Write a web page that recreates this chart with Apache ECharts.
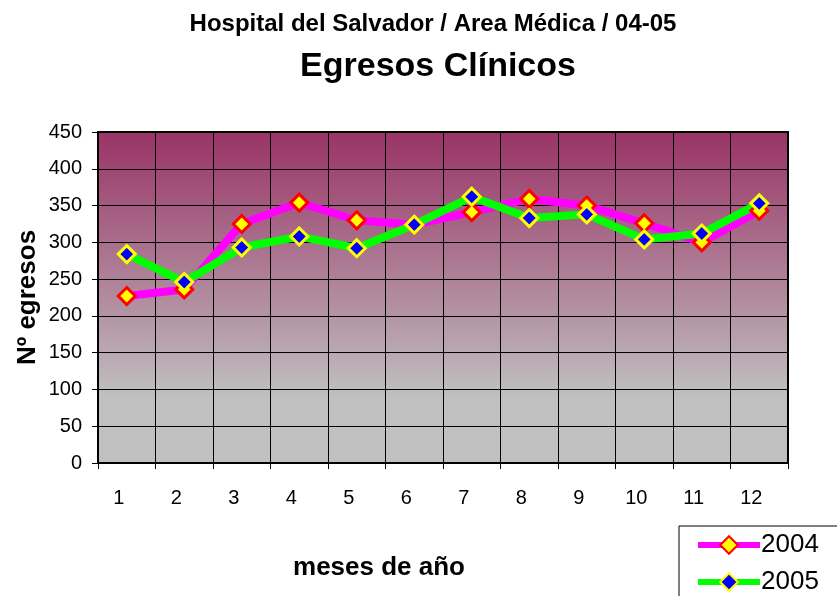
<!DOCTYPE html>
<html>
<head>
<meta charset="utf-8">
<script src="https://cdn.jsdelivr.net/npm/echarts@6/dist/echarts.min.js"></script>
<style>
html,body{margin:0;padding:0;background:#fff;}
#chart{width:837px;height:596px;}
</style>
</head>
<body>
<div id="chart"></div>
<script>
var months = ['1','2','3','4','5','6','7','8','9','10','11','12'];
var egresos2004 = [227, 236, 325, 354, 330, 324, 341, 359, 350, 326, 300, 343];
var egresos2005 = [284, 246, 293, 308, 292, 324, 362, 333, 338, 304, 312, 353];
var yTicks = [0, 450, 50];

var FONT = '"Liberation Sans", Arial, sans-serif';
var chart = echarts.init(document.getElementById('chart'));
chart.setOption({
  animation: false,
  backgroundColor: '#ffffff',
  title: [
    {text: 'Hospital del Salvador / Area Médica / 04-05', left: 428, top: 7, textAlign: 'center',
     textStyle: {fontFamily: FONT, fontWeight: 'bold', fontSize: 24, color: '#000'}},
    {text: 'Egresos Clínicos', left: 433, top: 45, textAlign: 'center',
     textStyle: {fontFamily: FONT, fontWeight: 'bold', fontSize: 34, color: '#000'}}
  ],
  legend: {
    orient: 'vertical',
    left: 679, top: 526,
    width: 200, height: 100,
    padding: [6, 60, 12, 16],
    itemGap: 11,
    itemWidth: 62,
    itemHeight: 22,
    borderColor: '#000', borderWidth: 1,
    lineStyle: {width: 6},
    textStyle: {fontFamily: FONT, fontSize: 26, color: '#000', padding: [0, 0, 0, -4]},
    data: ['2004', '2005']
  },
  grid: {
    left: 98, right: 49, top: 132, bottom: 133,
    show: true,
    borderColor: '#000', borderWidth: 2,
    backgroundColor: new echarts.graphic.LinearGradient(0, 0, 0, 1, [
      {offset: 0, color: '#993366'},
      {offset: 0.8, color: '#C0C0C0'},
      {offset: 1, color: '#C0C0C0'}
    ])
  },
  xAxis: {
    type: 'category',
    data: months,
    boundaryGap: true,
    name: 'meses de año',
    nameLocation: 'middle',
    nameGap: 92,
    nameMoveOverlap: false,
    nameTextStyle: {fontFamily: FONT, fontWeight: 'bold', fontSize: 26, color: '#000', padding: [0, 128, 0, 0], verticalAlign: 'top'},
    axisLine: {lineStyle: {color: '#000', width: 2}},
    axisTick: {show: true, length: 6, inside: false, alignWithLabel: false, lineStyle: {color: '#000'}},
    axisLabel: {fontFamily: FONT, fontSize: 20, color: '#000', margin: 25, padding: [0, 16, 0, 0]},
    splitLine: {show: true, lineStyle: {color: '#000', width: 1}}
  },
  yAxis: {
    type: 'value',
    min: yTicks[0], max: yTicks[1], interval: yTicks[2],
    name: 'Nº egresos',
    nameLocation: 'middle',
    nameGap: 57,
    nameMoveOverlap: false,
    nameTextStyle: {fontFamily: FONT, fontWeight: 'bold', fontSize: 26, color: '#000'},
    axisLine: {show: true, lineStyle: {color: '#000', width: 2}},
    axisTick: {show: true, length: 6, lineStyle: {color: '#000'}},
    axisLabel: {fontFamily: FONT, fontSize: 20, color: '#000', margin: 16},
    splitLine: {show: true, lineStyle: {color: '#000', width: 1}}
  },
  series: [
    {
      name: '2004', type: 'line', data: egresos2004,
      symbol: 'diamond', symbolSize: 17,
      lineStyle: {color: '#FF00FF', width: 8},
      itemStyle: {color: '#FFFF00', borderColor: '#FF0000', borderWidth: 3}
    },
    {
      name: '2005', type: 'line', data: egresos2005,
      symbol: 'diamond', symbolSize: 17,
      lineStyle: {color: '#00FF00', width: 8},
      itemStyle: {color: '#0000FF', borderColor: '#FFFF00', borderWidth: 3}
    }
  ]
});
</script>
</body>
</html>
